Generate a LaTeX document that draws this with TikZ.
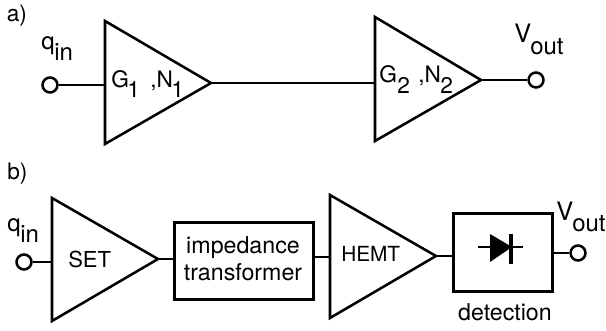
\documentclass[tikz,border=0pt]{standalone}
\usepackage{fontspec}
\setmainfont{TeX Gyre Heros}
\newcommand{\fs}[1]{\fontsize{#1}{#1}\selectfont}
\tikzset{
  x=0.75pt,y=-0.75pt,
  wire/.style={line width=1.9pt,line cap=butt},
  amp/.style={line width=1.9pt,line join=miter},
  port/.style={circle,draw,line width=1.9pt,fill=white,inner sep=0pt,minimum size=11.2pt},
  blockbox/.style={draw,line width=1.9pt,inner sep=0pt,anchor=north west},
  lab/.style={inner sep=0pt,anchor=base west},
  big/.style={font=\fs{17}},
  small/.style={font=\fs{18}},
  digit/.style={font=\fs{17}},
  sublab/.style={font=\fs{19}},
  blocktext/.style={inner sep=0pt,anchor=base,font=\fs{17.4}},
}
\begin{document}
\begin{tikzpicture}
\useasboundingbox (0,0) rectangle (606,331);
% a)
\coordinate (a1t) at (105,21); \coordinate (a1b) at (105,144); \coordinate (a1o) at (211,83); \coordinate (a1i) at (105,85);
\coordinate (a2t) at (375,17); \coordinate (a2b) at (375,141); \coordinate (a2o) at (481,80); \coordinate (a2i) at (375,83);
\draw[amp] (a1t) -- (a1o) -- (a1b) -- cycle;
\draw[amp] (a2t) -- (a2o) -- (a2b) -- cycle;
\node[port] (pa) at (50,85) {};
\node[port] (qa) at (536,80) {};
\draw[wire] (pa) -- (a1i);
\draw[wire] (a1o) -- (a2i);
\draw[wire] (a2o) -- (qa);
% b)
\coordinate (b1t) at (52,198); \coordinate (b1b) at (52,321); \coordinate (b1o) at (158,259); \coordinate (b1i) at (52,262);
\coordinate (b2t) at (330,195); \coordinate (b2b) at (330,318); \coordinate (b2o) at (436,256); \coordinate (b2i) at (330,257);
\draw[amp] (b1t) -- (b1o) -- (b1b) -- cycle;
\draw[amp] (b2t) -- (b2o) -- (b2b) -- cycle;
\node[port] (pb) at (24,262) {};
\node[port] (qb) at (578,253) {};
\node[blockbox,minimum width=104.25pt,minimum height=57.75pt] (imp) at (173,221) {};
\node[blockbox,minimum width=74.25pt,minimum height=58.5pt] (det) at (452,212) {};
\draw[wire] (pb) -- (b1i);
\draw[wire] (b1o) -- (imp.west |- b1o);
\draw[wire] (imp.east |- b2i) -- (b2i);
\draw[wire] (b2o) -- (det.west |- b2o);
\draw[wire] (det.east |- qb) -- (qb);
% diode
\coordinate (dl) at (478,247); \coordinate (dr) at (523,247);
\draw[line width=1.8pt] (dl) -- (dr);
\fill (490,234) -- (512,247) -- (490,262) -- cycle;
\draw[line width=3pt] (511,234) -- (511,264);
% text
\node[lab,big] (la) at (6.5,22) {a)};
\node[lab,big] (lb) at (7,180) {b)};
\node[lab,small] (q1) at (41,50) {q};
\node[lab,small] (q1s) at (54,60.5) {in};
\node[lab,sublab] (v1) at (514,43) {V};
\node[lab,small] (v1s) at (530,55) {out};
\node[lab,big] (g1) at (111,88) {G};
\node[lab,digit] (g1s) at (127,98) {1};
\node[lab,big] (n1) at (150,88) {,N};
\node[lab,digit] (n1s) at (171,98) {1};
\node[lab,big] (g2) at (379,83) {G};
\node[lab,digit] (g2s) at (397,94) {2};
\node[lab,big] (n2) at (418,83) {,N};
\node[lab,digit] (n2s) at (440,94) {2};
\node[lab,small] (q2) at (7,232) {q};
\node[lab,small] (q2s) at (20,243) {in};
\node[lab,sublab] (v2) at (556,220) {V};
\node[lab,small] (v2s) at (572,231) {out};
\node[lab,font=\fs{16.5}] (set) at (68,267) {SET};
\node[lab,font=\fs{15.6}] (hemt) at (341,261.5) {HEMT};
\node[blocktext] (t1) at (243,253) {impedance};
\node[blocktext] (t2) at (243,280) {transformer};
\node[blocktext] (t3) at (505,320) {detection};
\end{tikzpicture}
\end{document}
